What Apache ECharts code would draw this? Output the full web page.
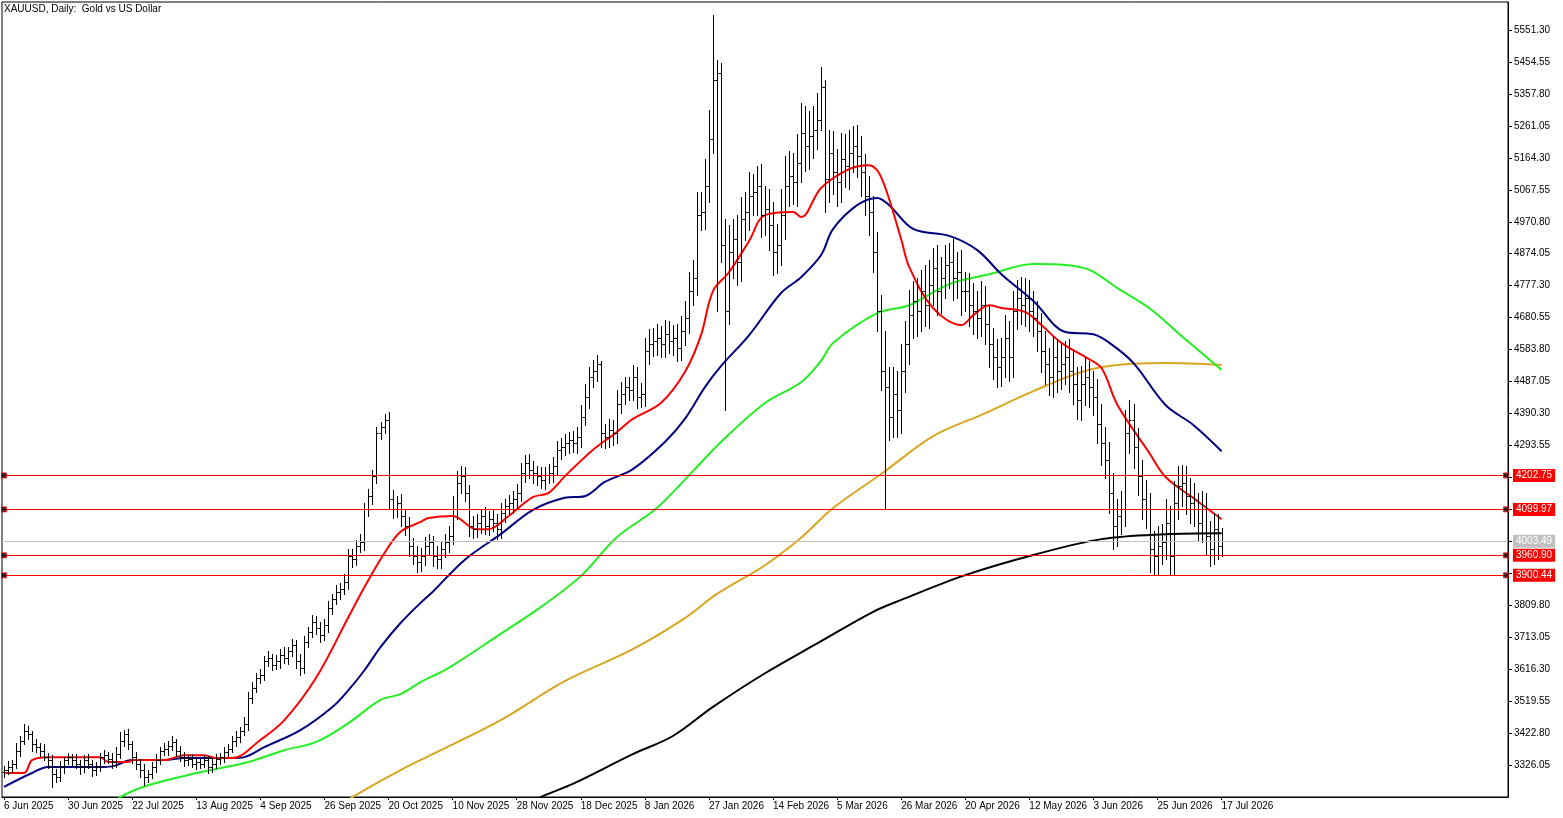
<!DOCTYPE html>
<html><head><meta charset="utf-8">
<script src="https://cdn.jsdelivr.net/npm/echarts@6/dist/echarts.min.js"></script>
<style>html,body{margin:0;padding:0;background:#fff}#c{width:1563px;height:818px}</style>
</head><body><div id="c"></div>
<script>
const dateLabels = ["6 Jun 2025","30 Jun 2025","22 Jul 2025","13 Aug 2025","4 Sep 2025","26 Sep 2025","20 Oct 2025","10 Nov 2025","28 Nov 2025","18 Dec 2025","8 Jan 2026","27 Jan 2026","14 Feb 2026","5 Mar 2026","26 Mar 2026","20 Apr 2026","12 May 2026","3 Jun 2026","25 Jun 2026","17 Jul 2026"];
const firstOpen = 3305;
const closes = [
3310,3320,3330,3370,3400,3430,3420,3390,3380,3370,3350,3340,3300,3290,3320,3340,
3350,3340,3330,3320,3340,3330,3310,3320,3350,3355,3345,3335,3360,3400,3420,3390,
3350,3330,3310,3290,3300,3320,3340,3370,3375,3385,3395,3370,3350,3340,3345,3330,
3335,3330,3340,3320,3330,3345,3350,3365,3375,3400,3410,3430,3450,3530,3560,3590,
3600,3640,3650,3630,3640,3660,3650,3670,3690,3640,3620,3700,3730,3760,3740,3720,
3750,3800,3830,3850,3860,3880,3960,3950,3990,4000,4100,4140,4200,4330,4350,4370,
4130,4100,4120,4080,4050,3990,3960,3940,3960,3990,4000,3960,3950,3980,4000,4020,
4100,4180,4200,4150,4050,4040,4060,4080,4050,4070,4060,4040,4090,4110,4120,4130,
4150,4210,4240,4220,4210,4200,4190,4205,4210,4230,4280,4290,4300,4310,4300,4320,
4380,4440,4500,4520,4540,4330,4320,4340,4330,4420,4450,4470,4460,4500,4440,4450,
4580,4600,4610,4620,4600,4630,4610,4620,4590,4640,4680,4760,4800,4990,5000,5080,
5220,5400,5420,4900,4700,4880,4920,4850,4980,5000,5050,5060,5080,4990,5010,4960,
4880,4900,4990,5080,5110,5090,5150,5240,5200,5230,5250,5280,5380,5100,5180,5120,
5090,5160,5140,5180,5200,5170,5120,5050,5000,4880,4700,4520,4470,4380,4450,4400,
4520,4600,4690,4730,4700,4760,4720,4780,4830,4760,4800,4840,4850,4800,4820,4760,
4760,4720,4700,4680,4720,4660,4600,4560,4530,4560,4620,4560,4700,4740,4720,4740,
4700,4680,4640,4580,4540,4500,4560,4520,4540,4560,4520,4480,4430,4480,4500,4470,
4440,4360,4300,4250,4150,4050,4080,4100,4330,4370,4290,4200,4130,4100,3980,3960,
3990,4000,4060,3960,4120,4170,4180,4140,4120,4100,4060,4100,4020,3980,4040,3990,4003.49];
const hiExt = [
12,18,10,22,15,20,14,9,16,12,20,11,17,13,19,10,
14,9,18,12,16,20,11,15,13,18,10,16,22,25,12,14,
10,16,13,19,11,15,20,12,17,14,18,10,13,16,11,15,
13,10,16,12,18,14,11,17,15,13,19,12,20,16,18,14,
17,15,20,13,18,16,22,14,19,15,21,17,13,20,16,18,
18,22,15,20,17,24,19,21,16,25,20,22,18,20,15,20,
25,30,22,28,20,26,24,30,22,27,25,20,28,24,26,30,
40,35,30,28,24,30,26,22,28,24,30,26,28,22,25,27,
26,30,24,28,25,22,27,24,26,30,28,25,27,24,26,30,
35,40,30,32,28,10,30,35,30,40,35,30,32,36,30,34,
40,45,38,42,36,44,40,38,42,45,50,60,55,70,60,80,
90,196,40,30,80,80,60,70,65,60,70,55,60,65,70,60,
70,65,80,90,75,70,85,90,80,75,70,80,60,20,70,65,
70,80,75,70,60,65,60,55,60,50,60,50,120,60,80,70,
80,70,75,60,70,65,80,75,60,70,65,60,55,70,60,65,
60,55,65,60,70,55,60,50,55,60,70,50,60,55,65,60,
55,60,50,55,60,50,65,55,60,50,55,60,50,55,60,50,
50,55,60,50,55,60,50,55,70,60,50,55,50,60,50,55,
60,55,70,50,65,60,55,50,55,60,50,55,50,45,50,45,40];
const loExt = [
14,10,16,12,18,11,15,20,13,17,10,22,40,15,12,18,
11,16,13,20,14,12,18,15,11,17,13,19,15,12,16,14,
18,15,20,25,16,12,14,11,15,18,13,17,12,16,14,11,
16,13,11,18,14,12,17,15,13,10,16,14,12,18,15,13,
15,18,14,16,12,20,15,17,13,19,22,14,18,15,17,20,
16,20,18,15,22,17,20,24,18,20,22,19,24,20,18,20,
30,26,24,30,28,32,25,30,26,28,24,30,26,28,25,30,
25,28,30,26,32,28,24,30,26,28,24,30,26,28,24,30,
26,24,28,25,30,26,24,28,25,26,24,28,26,30,25,28,
30,26,32,28,30,40,35,30,34,30,28,32,30,28,34,30,
38,40,36,42,38,40,36,44,40,38,42,45,40,50,45,50,
50,40,700,50,300,40,80,70,60,65,55,60,70,65,60,75,
70,65,60,70,60,65,70,60,75,70,65,60,30,100,70,65,
70,60,65,70,60,65,70,60,70,60,60,60,366,70,60,80,
70,65,60,70,75,60,65,70,60,70,65,60,70,65,60,70,
60,65,70,60,55,60,70,65,60,55,60,70,60,55,60,65,
60,55,60,65,60,55,60,65,55,60,65,60,55,60,65,60,
55,60,65,55,60,70,60,55,50,60,65,55,60,55,70,60,
60,55,50,60,55,50,60,55,60,50,55,60,55,50,45,40,30];
const maFast = [[0,3302],[5,3302],[7,3341],[11,3350],[24,3350],[26,3335],[31,3335],[32,3341],[40,3341],[45,3356],[50,3356],[53,3347],[57,3347],[64,3402],[70,3462],[78,3592],[86,3774],[90,3865],[95,3968],[99,4032],[104,4062],[106,4074],[112,4080],[118,4040],[121,4040],[126,4080],[132,4137],[136,4150],[140,4200],[147,4280],[153,4334],[157,4374],[164,4422],[170,4516],[174,4627],[177,4761],[181,4818],[186,4912],[190,4991],[197,5000],[199,4985],[204,5073],[211,5130],[216,5142],[219,5106],[224,4918],[226,4834],[232,4709],[239,4658],[242,4688],[246,4718],[249,4710],[255,4697],[259,4658],[264,4604],[270,4561],[274,4528],[278,4416],[286,4270],[290,4198],[297,4134],[304,4070]];
const maMid = [[0,3260],[7,3302],[11,3320],[24,3320],[27,3322],[32,3341],[40,3341],[45,3347],[57,3347],[60,3350],[65,3380],[74,3432],[82,3502],[86,3553],[90,3613],[94,3683],[99,3756],[104,3817],[107,3850],[115,3947],[124,4025],[132,4098],[140,4135],[145,4140],[150,4183],[157,4222],[165,4304],[170,4374],[175,4470],[179,4534],[186,4627],[194,4755],[199,4803],[204,4870],[207,4949],[213,5021],[218,5043],[221,5021],[227,4949],[236,4928],[243,4885],[249,4812],[257,4731],[265,4637],[272,4630],[276,4604],[282,4543],[290,4416],[297,4355],[304,4276]];
const ma50 = [[27,3200],[29,3229],[36,3265],[45,3293],[53,3314],[61,3335],[70,3371],[78,3396],[86,3453],[94,3523],[99,3541],[104,3577],[111,3620],[124,3723],[134,3804],[144,3898],[153,4016],[163,4104],[172,4216],[179,4304],[190,4422],[199,4485],[204,4550],[207,4604],[218,4694],[226,4718],[236,4782],[246,4812],[257,4843],[265,4840],[271,4825],[278,4770],[286,4709],[294,4625],[304,4522]];
const ma100 = [[84,3200],[87,3229],[99,3311],[107,3359],[124,3462],[140,3580],[157,3677],[170,3771],[178,3844],[190,3931],[199,4014],[207,4104],[219,4207],[232,4322],[244,4386],[257,4458],[269,4516],[278,4537],[290,4543],[304,4537]];
const ma200 = [[130,3200],[134,3229],[142,3269],[157,3359],[167,3414],[177,3502],[190,3604],[204,3701],[217,3790],[224,3826],[240,3901],[257,3962],[274,4010],[290,4025],[304,4028]];
const levels = [4202.75, 4099.97, 3960.90, 3900.44];
const lastPrice = 4003.49;

const FONT = 'Liberation Sans';
const N = 376;
const cats = [];
for (let i = 0; i < N; i++) cats.push(i % 16 === 0 && dateLabels[i/16] ? dateLabels[i/16] : '');
const bars = closes.map((c, i) => {
  const o = i ? closes[i-1] : firstOpen;
  return [i, o, c, Math.min(o, c) - loExt[i], Math.max(o, c) + hiExt[i]];
});
function renderBar(params, api) {
  const i = api.value(0), o = api.value(1), c = api.value(2), l = api.value(3), h = api.value(4);
  const pH = api.coord([i, h]), pL = api.coord([i, l]), pO = api.coord([i, o]), pC = api.coord([i, c]);
  const x = Math.round(pH[0]) + 0.5;
  const st = {stroke: '#000', lineWidth: 1};
  const yO = Math.round(pO[1]) + 0.5, yC = Math.round(pC[1]) + 0.5;
  return {type: 'group', children: [
    {type: 'line', shape: {x1: x, y1: Math.round(pH[1]), x2: x, y2: Math.round(pL[1]) + 1}, style: st},
    {type: 'line', shape: {x1: x - 2, y1: yO, x2: x, y2: yO}, style: st},
    {type: 'line', shape: {x1: x, y1: yC, x2: x + 2, y2: yC}, style: st}
  ]};
}
const ma = (name, data, color, z) => ({name, type: 'line', data, smooth: 0.35, showSymbol: false, clip: true,
  lineStyle: {color, width: 2}, z, silent: true});
const lbl = (bg) => ({show: true, position: 'end', distance: 5, color: '#fff', backgroundColor: bg,
  padding: [2, 3, 1, 3], fontSize: 10, fontFamily: FONT, formatter: p => p.value.toFixed(2)});
const markData = levels.map(v => ({yAxis: v, lineStyle: {color: '#ff0000', width: 1, type: 'solid'}, label: lbl('#ff0000')}));
markData.push({yAxis: lastPrice, lineStyle: {color: '#c0c0c0', width: 1, type: 'solid'}, label: lbl('#c0c0c0')});
const squares = [];
levels.forEach(v => { squares.push([0, v]); squares.push([375, v]); });
const covered = levels.concat([lastPrice]);

const chart = echarts.init(document.getElementById('c'));
chart.setOption({
  animation: false,
  backgroundColor: '#fff',
  grid: {left: 2, right: 55, top: 2, bottom: 21, show: true, borderColor: '#000', borderWidth: 1},
  graphic: [{type: 'text', left: 4, top: 4, style: {text: 'XAUUSD, Daily:  Gold vs US Dollar', fontSize: 10, fontFamily: FONT, fill: '#000'}}],
  xAxis: {type: 'category', data: cats, boundaryGap: true,
    axisLine: {lineStyle: {color: '#000'}},
    axisTick: {show: true, alignWithLabel: true, length: 3, interval: (i, v) => v !== '', lineStyle: {color: '#000'}},
    axisLabel: {interval: (i, v) => v !== '', align: 'left', margin: 4, fontSize: 10, fontFamily: FONT, color: '#000'},
    splitLine: {show: false}},
  yAxis: {type: 'value', position: 'right', min: 3229.30, max: 5636.1, interval: 96.75, scale: true,
    axisLine: {show: true, lineStyle: {color: '#000'}},
    axisTick: {show: true, length: 4, lineStyle: {color: '#000'}},
    axisLabel: {showMinLabel: false, showMaxLabel: false, margin: 6, fontSize: 10, fontFamily: FONT, color: '#000',
      formatter: v => covered.some(c => Math.abs(c - v) < 20) ? '' : v.toFixed(2)},
    splitLine: {show: false}},
  series: [
    {type: 'line', data: [], markLine: {silent: true, symbol: 'none', data: markData}, z: 1},
    ma('ma200', ma200, '#000000', 3),
    ma('ma100', ma100, '#daa520', 3),
    ma('ma50', ma50, '#22ee22', 3),
    ma('maMid', maMid, '#000080', 3),
    ma('maFast', maFast, '#ff0000', 3),
    {type: 'custom', renderItem: renderBar, data: bars, encode: {x: 0, y: [1, 2, 3, 4]}, z: 4, silent: true},
    {type: 'scatter', data: squares, symbol: 'rect', symbolSize: 5, itemStyle: {color: '#000', borderColor: '#ff0000', borderWidth: 1}, z: 6, silent: true, clip: false}
  ]
});
</script></body></html>
